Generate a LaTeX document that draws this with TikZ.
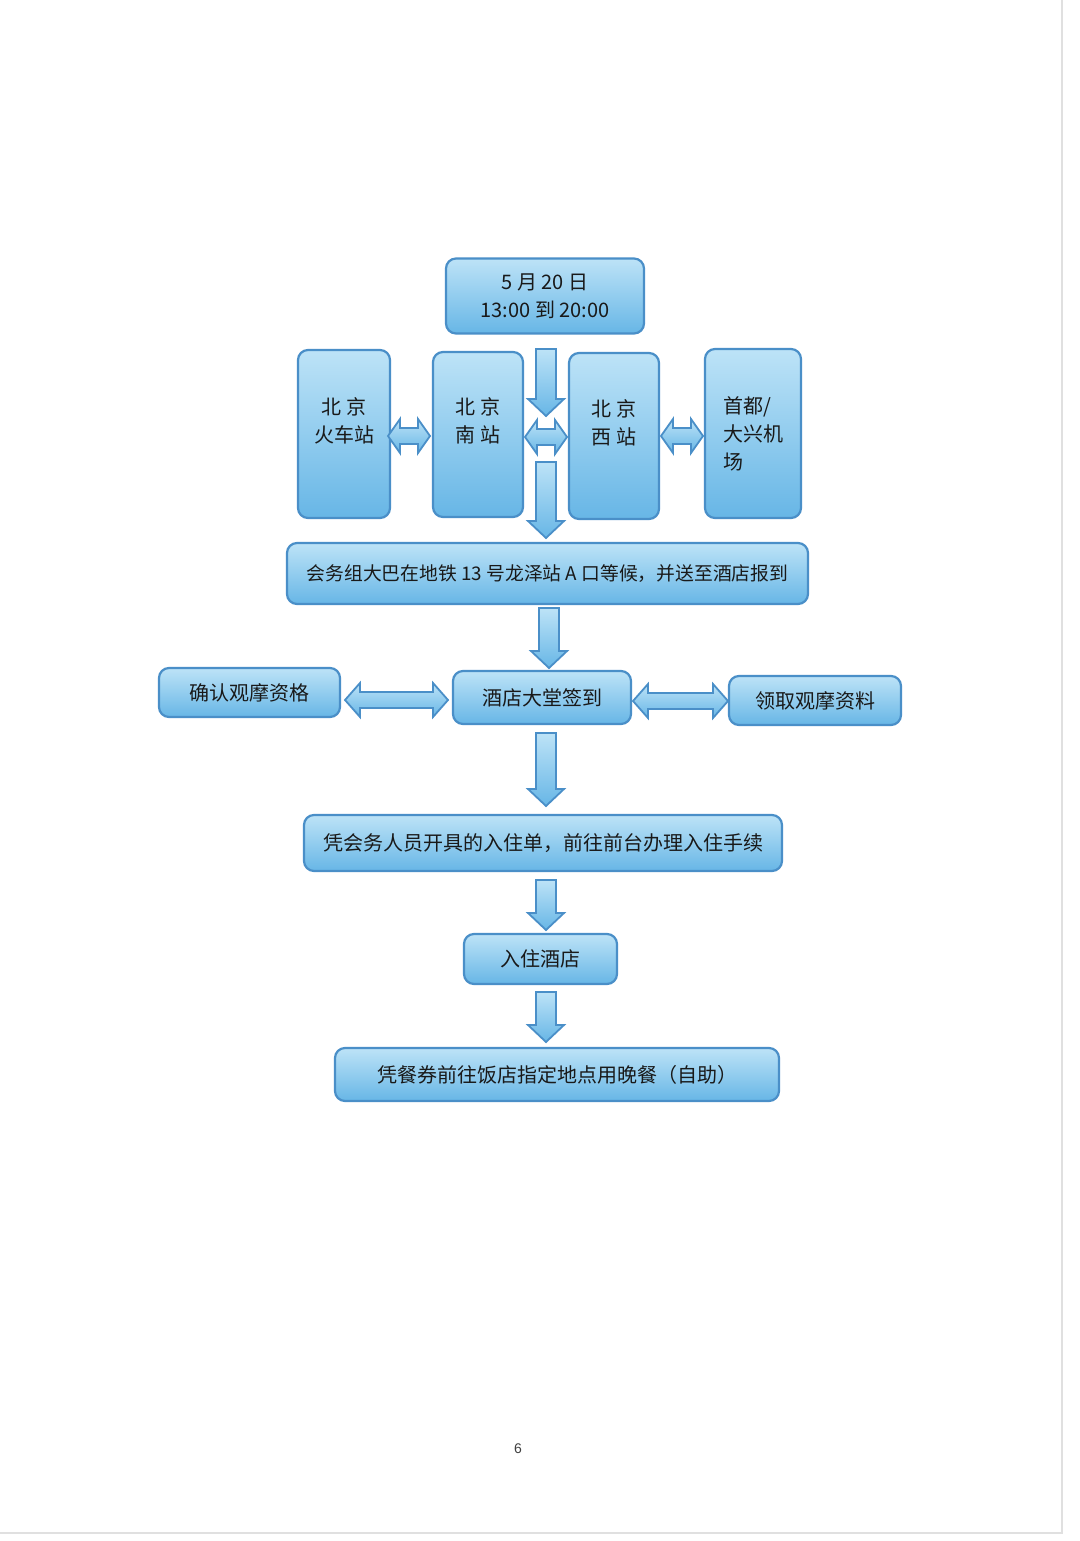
\documentclass[tikz,border=0pt]{standalone}
\usepackage{fontspec}
\setmainfont{Liberation Serif}
\setsansfont{Liberation Sans}
\newfontfamily\cjk{Noto Sans CJK SC}
\definecolor{bordc}{HTML}{4A8FC8}
\definecolor{lt}{HTML}{BDE3F7}
\definecolor{dk}{HTML}{67B6E6}
\newcommand\vblock[3]{%
  \draw[arr] (#1-10,#2) -- (#1+10,#2) -- (#1+10,#3-17) -- (#1+18,#3-17) -- (#1,#3)
    -- (#1-18,#3-17) -- (#1-10,#3-17) -- cycle;}
\newcommand\hdouble[4]{% y, xleft, xright, head length
  \draw[arr] (#2,#1) -- (#2+#4,#1-17) -- (#2+#4,#1-8) -- (#3-#4,#1-8) -- (#3-#4,#1-17)
    -- (#3,#1) -- (#3-#4,#1+17) -- (#3-#4,#1+8) -- (#2+#4,#1+8) -- (#2+#4,#1+17) -- cycle;}
\begin{document}
\begin{tikzpicture}[x=0.5pt,y=-0.5pt,
  box/.style={draw=bordc, line width=1.1pt, rounded corners=5pt, top color=lt, bottom color=dk,
    font=\cjk\fontsize{10}{14}\selectfont, align=center, inner sep=0pt, text=black!90},
  arr/.style={draw=bordc, line width=0.9pt, top color=lt, bottom color=dk}]
\useasboundingbox[fill=white] (0,0) rectangle (1080,1541);
\draw[black!12, line width=0.8pt] (1062,0) -- (1062,1533) -- (0,1533);

\node[box, minimum width=99pt, minimum height=37.5pt] (top) at (545,296) {5 月 20 日\\13:00 到 20:00};

\node[box, minimum width=46pt, minimum height=84pt] (fire) at (344,434) {北 京\\火车站\\ };
\node[box, minimum width=45pt, minimum height=82.5pt] (south) at (478,434.5) {北 京\\南 站\\ };
\node[box, minimum width=45pt, minimum height=83pt] (west) at (614,436) {北 京\\西 站\\ };
\node[box, minimum width=48pt, minimum height=84.5pt, align=left] (air) at (753,433.5) {首都/\\大兴机\\场};

\vblock{546}{349}{416}
\hdouble{436}{388}{430}{12}
\hdouble{437}{525}{567}{12}
\hdouble{436}{661}{703}{12}
\vblock{546}{462}{538}

\node[box, minimum width=260.5pt, minimum height=30.5pt, font=\cjk\fontsize{9.4}{14}\selectfont] (bus) at (547.5,573.5) {会务组大巴在地铁 13 号龙泽站 A 口等候，并送至酒店报到};

\vblock{549}{608}{668}

\node[box, minimum width=90.5pt, minimum height=24.5pt] (confirm) at (249.5,692.5) {确认观摩资格};
\node[box, minimum width=89pt, minimum height=26.5pt] (sign) at (542,697.5) {酒店大堂签到};
\node[box, minimum width=86pt, minimum height=24.5pt] (get) at (815,700.5) {领取观摩资料};

\hdouble{700}{345}{448}{15}
\hdouble{701}{633}{728}{15}

\vblock{546}{733}{806}

\node[box, minimum width=239pt, minimum height=28pt] (checkin) at (543,843) {凭会务人员开具的入住单，前往前台办理入住手续};

\vblock{546}{880}{930}

\node[box, minimum width=76.5pt, minimum height=25pt] (stay) at (540.5,959) {入住酒店};

\vblock{546}{992}{1042}

\node[box, minimum width=222pt, minimum height=26.5pt] (dinner) at (557,1074.5) {凭餐券前往饭店指定地点用晚餐（自助）};

\node[font=\sffamily\fontsize{7}{8}\selectfont, text=black!75] (page) at (518,1449) {6};
\end{tikzpicture}
\end{document}
